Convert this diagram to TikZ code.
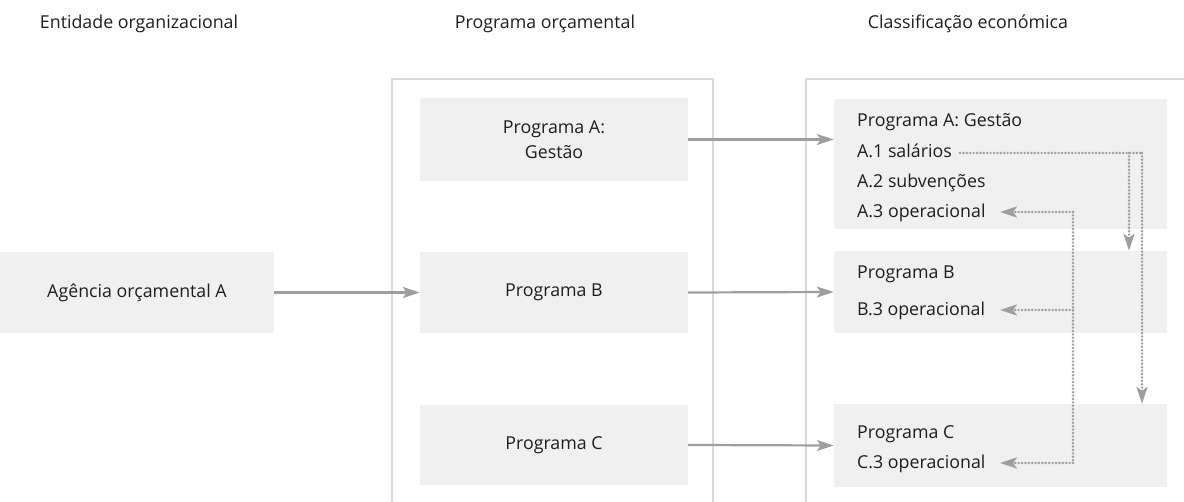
\documentclass[tikz,border=0pt]{standalone}
\usepackage{fontspec}
\setmainfont{Open Sans}
\usepackage{xcolor}
\definecolor{boxGray}{HTML}{F0F0F0}
\definecolor{frameGray}{HTML}{DADADA}
\definecolor{arrowGray}{HTML}{9E9E9F}
\definecolor{textDark}{HTML}{1E1E1E}
\usepackage{tikz}
\usetikzlibrary{arrows.meta, positioning}

\begin{document}
\begin{tikzpicture}[
		x=1pt, y=-1pt,
		every node/.style={
			inner sep=0pt,
			text=textDark,
			font=\fontsize{17.8}{25}\selectfont
		},
		box/.style={
			fill=boxGray,
			align=center
		},
		item/.style={anchor=base west},
		frame/.style={draw=frameGray, line width=2pt},
		arrow/.style={-{Stealth[length=17pt, width=11pt, inset=4pt]}, draw=arrowGray, fill=arrowGray, line width=2.2pt},
		dotarrow/.style={-{Stealth[length=17pt, width=11pt, inset=4pt]}, draw=arrowGray, fill=arrowGray, line width=2.7pt, line cap=round, dash pattern=on 0pt off 3.4pt},
		dotline/.style={draw=arrowGray, line width=2.7pt, line cap=round, dash pattern=on 0pt off 3.4pt}
		]
		
		\useasboundingbox (0,0) rectangle (1184,502);
		
		% column headings
		\node (hEntity) at (139,24) {Entidade organizacional};
		\node (hProgram) at (545,24) {Programa orçamental};
		\node (hClass) at (968,24) {Classificação económica};
		
		% column frames
		\draw[frame] (392,502) -- (392,79) -- (713,79) -- (713,502);
		\draw[frame] (806,502) -- (806,79) -- (1184,79);
		
		% organizational entity
		\node[box, minimum width=274pt, minimum height=81pt] (agency) at (137,292.5) {Agência orçamental A};
		
		% budget programmes
		\node[box, minimum width=268pt, minimum height=83pt] (progA) at (554,139.5) {Programa A:\\Gestão};
		\node[box, minimum width=268pt, minimum height=81pt] (progB) at (554,292.5) {Programa B};
		\node[box, minimum width=268pt, minimum height=80pt] (progC) at (554,445) {Programa C};
		
		% economic classification
		\node[box, minimum width=333pt, minimum height=130pt] (classA) at (1000.5,164) {};
		\node[box, minimum width=333pt, minimum height=82pt] (classB) at (1000.5,292) {};
		\node[box, minimum width=333pt, minimum height=83pt] (classC) at (1000.5,445.5) {};
		
		\node[item] (titleA) at (857,127) {Programa A: Gestão};
		\node[item] (a1) at (857,157.5) {A.1 salários};
		\node[item] (a2) at (857,188) {A.2 subvenções};
		\node[item] (a3) at (857,218) {A.3 operacional};
		\node[item] (titleB) at (857,279) {Programa B};
		\node[item] (b3) at (857,316) {B.3 operacional};
		\node[item] (titleC) at (857,439) {Programa C};
		\node[item] (c3) at (857,469) {C.3 operacional};
		
		\draw[arrow] (agency.east |- progB) -- (progB.west);
		\draw[arrow] (progA.east) -- (progA.east -| classA.west);
		\draw[arrow] (progB.east) -- (classB.west);
		\draw[arrow] (progC.east) -- (classC.west);
		
		% reallocation paths
		\coordinate (splitB) at (1129,153);
		\coordinate (splitC) at (1142,153);
		\coordinate (opTop) at (1073,212);
		\coordinate (opBot) at (1073,463);
		
		\draw[dotline] ([xshift=8pt]a1.east |- splitC) -- (splitC);
		\draw[dotarrow] (splitB) -- (splitB |- classB.north);
		\draw[dotarrow] (splitC) -- (splitC |- classC.north);
		\draw[dotline] (opTop) -- (opBot);
		\draw[dotarrow] (opTop) -- (opTop -| 1000,0);
		\draw[dotarrow] (opTop |- 0,310) -- (1000,310);
		\draw[dotarrow] (opBot) -- (opBot -| 1000,0);
		
	\end{tikzpicture}
\end{document}
